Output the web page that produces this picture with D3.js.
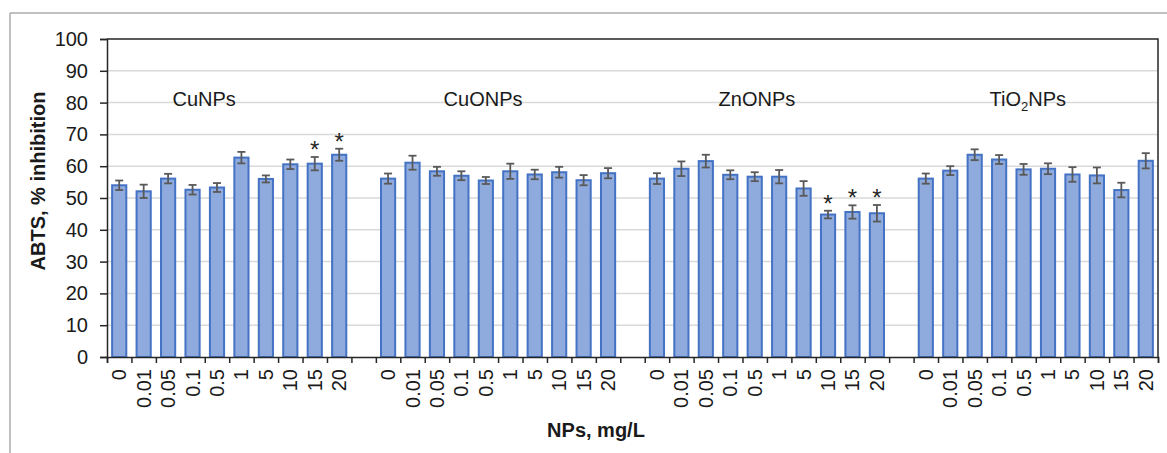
<!DOCTYPE html>
<html>
<head>
<meta charset="utf-8">
<script src="https://cdn.jsdelivr.net/npm/d3@7"></script>
<style>
  body { margin: 0; background: #fff; }
  svg { display: block; font-family: "Liberation Sans", Arial, sans-serif; }
</style>
</head>
<body>
<div id="chart"></div>
<script>
// categories
const groups = ['CuNPs', 'CuONPs', 'ZnONPs', 'TiO2NPs']
const concentrations = ['0', '0.01', '0.05', '0.1', '0.5', '1', '5', '10', '15', '20']

// ABTS % inhibition (mean) and error per group
const cuNPs = [54.0, 52.1, 56.1, 52.6, 53.3, 62.7, 56.0, 60.6, 60.8, 63.6]
const cuNPsErr = [1.5, 2.1, 1.5, 1.5, 1.4, 1.8, 1.1, 1.5, 2.1, 1.9]
const cuONPs = [56.1, 61.1, 58.4, 57.0, 55.5, 58.4, 57.4, 58.1, 55.6, 57.8]
const cuONPsErr = [1.6, 2.2, 1.4, 1.4, 1.1, 2.4, 1.5, 1.7, 1.6, 1.6]
const znONPs = [56.1, 59.2, 61.6, 57.3, 56.7, 56.7, 53.0, 44.8, 45.6, 45.2]
const znONPsErr = [1.7, 2.3, 2.0, 1.4, 1.4, 2.1, 2.3, 1.2, 2.1, 2.6]
const tiO2NPs = [56.1, 58.6, 63.6, 62.1, 59.0, 59.2, 57.4, 57.1, 52.5, 61.7]
const tiO2NPsErr = [1.6, 1.4, 1.7, 1.4, 1.7, 1.7, 2.3, 2.5, 2.3, 2.4]

// significance marks (*)
const cuNPsSig = [false, false, false, false, false, false, false, false, true, true]
const cuONPsSig = [false, false, false, false, false, false, false, false, false, false]
const znONPsSig = [false, false, false, false, false, false, false, true, true, true]
const tiO2NPsSig = [false, false, false, false, false, false, false, false, false, false]

const yTicks = [0, 10, 20, 30, 40, 50, 60, 70, 80, 90, 100]

const values = [cuNPs, cuONPs, znONPs, tiO2NPs]
const errors = [cuNPsErr, cuONPsErr, znONPsErr, tiO2NPsErr]
const sigs = [cuNPsSig, cuONPsSig, znONPsSig, tiO2NPsSig]

// build rows, with an empty category between groups (Excel style)
const rows = []
const domain = []
groups.forEach((g, gi) => {
  if (gi > 0) domain.push('gap' + gi)
  concentrations.forEach((c, ci) => {
    const key = g + '|' + c
    domain.push(key)
    rows.push({ key, group: g, conc: c, value: values[gi][ci], err: errors[gi][ci], sig: sigs[gi][ci] })
  })
})

const width = 1167
const height = 453
const margin = { top: 39, right: 9, bottom: 96, left: 107 }
const plotW = width - margin.left - margin.right
const plotH = height - margin.top - margin.bottom

const svg = d3.select('#chart').append('svg')
  .attr('width', width)
  .attr('height', height)

// outer frame (grey lines top and left)
svg.append('line').attr('x1', 10).attr('x2', width).attr('y1', 13).attr('y2', 13)
  .attr('stroke', '#ababab').attr('stroke-width', 1.5)
svg.append('line').attr('x1', 10).attr('x2', 10).attr('y1', 13).attr('y2', height)
  .attr('stroke', '#ababab').attr('stroke-width', 1.5)

const g = svg.append('g').attr('transform', `translate(${margin.left},${margin.top})`)

const x = d3.scaleBand().domain(domain).range([0, plotW]).paddingInner(0.42).paddingOuter(0.21)
const xEdges = d3.scaleLinear().domain([0, domain.length]).range([0, plotW])
const y = d3.scaleLinear().domain([0, 100]).range([plotH, 0])

// gridlines
g.append('g').selectAll('line')
  .data(yTicks.filter(t => t > 0 && t < 100))
  .enter().append('line')
  .attr('x1', 0).attr('x2', plotW)
  .attr('y1', d => y(d)).attr('y2', d => y(d))
  .attr('stroke', '#d9d9d9').attr('stroke-width', 1.5)

// top and right border of the plot
g.append('path')
  .attr('d', `M0,${y(100)}H${plotW}V${plotH}`)
  .attr('fill', 'none').attr('stroke', '#262626').attr('stroke-width', 1.5)

// bars
g.selectAll('.bar')
  .data(rows)
  .enter().append('rect')
  .attr('class', 'bar')
  .attr('x', d => x(d.key))
  .attr('y', d => y(d.value))
  .attr('width', x.bandwidth())
  .attr('height', d => plotH - y(d.value))
  .attr('fill', '#8faadc')
  .attr('stroke', '#4472c4')
  .attr('stroke-width', 2)

// error bars
const eb = g.append('g').attr('stroke', '#595959').attr('stroke-width', 1.8)
const cap = 4
rows.forEach(d => {
  const cx = x(d.key) + x.bandwidth() / 2
  eb.append('line').attr('x1', cx).attr('x2', cx).attr('y1', y(d.value + d.err)).attr('y2', y(d.value - d.err))
  eb.append('line').attr('x1', cx - cap).attr('x2', cx + cap).attr('y1', y(d.value + d.err)).attr('y2', y(d.value + d.err))
  eb.append('line').attr('x1', cx - cap).attr('x2', cx + cap).attr('y1', y(d.value - d.err)).attr('y2', y(d.value - d.err))
})

// significance stars
g.selectAll('.star')
  .data(rows.filter(d => d.sig))
  .enter().append('text')
  .attr('class', 'star')
  .attr('x', d => x(d.key) + x.bandwidth() / 2)
  .attr('y', d => y(d.value + d.err) + 1)
  .attr('text-anchor', 'middle')
  .attr('font-size', 24)
  .attr('fill', '#262626')
  .text('*')

// group labels
const labelShift = [-25, -15, -10, -8]
groups.forEach((grp, gi) => {
  const first = x(grp + '|' + concentrations[0])
  const last = x(grp + '|' + concentrations[concentrations.length - 1]) + x.bandwidth()
  const t = g.append('text')
    .attr('x', (first + last) / 2 + labelShift[gi])
    .attr('y', 67)
    .attr('text-anchor', 'middle')
    .attr('font-size', 20)
    .attr('fill', '#1a1a1a')
  if (grp === 'TiO2NPs') {
    t.append('tspan').text('TiO')
    t.append('tspan').attr('font-size', 13).attr('dy', 5).text('2')
    t.append('tspan').attr('dy', -5).text('NPs')
  } else {
    t.text(grp)
  }
})

// y axis
const yAxis = g.append('g')
  .call(d3.axisLeft(y).tickValues(yTicks).tickSize(7).tickPadding(12))
yAxis.selectAll('path, line').attr('stroke', '#262626').attr('stroke-width', 1.5)
yAxis.selectAll('text').attr('font-size', 20).attr('fill', '#1a1a1a').attr('font-family', null)

// x axis: tick marks on category boundaries
const xTicks = g.append('g')
  .attr('transform', `translate(0,${plotH})`)
  .call(d3.axisBottom(xEdges).tickValues(d3.range(domain.length + 1)).tickSize(6).tickFormat(''))
xTicks.selectAll('path, line').attr('stroke', '#262626').attr('stroke-width', 1.5)

// x axis labels at band centres
const xLabels = g.append('g')
  .attr('transform', `translate(0,${plotH})`)
  .call(d3.axisBottom(x).tickSize(0).tickFormat(d => d.startsWith('gap') ? '' : d.split('|')[1]))
xLabels.select('.domain').remove()
xLabels.selectAll('text')
  .attr('font-size', 20)
  .attr('font-family', null)
  .attr('fill', '#1a1a1a')
  .attr('transform', 'rotate(-90)')
  .attr('text-anchor', 'end')
  .attr('x', -12)
  .attr('y', 0)
  .attr('dy', '0.35em')

// axis titles
svg.append('text')
  .attr('x', 596)
  .attr('y', 437)
  .attr('text-anchor', 'middle')
  .attr('font-size', 20)
  .attr('font-weight', 'bold')
  .attr('fill', '#1a1a1a')
  .text('NPs, mg/L')

svg.append('text')
  .attr('transform', 'translate(45,181) rotate(-90)')
  .attr('text-anchor', 'middle')
  .attr('font-size', 20)
  .attr('font-weight', 'bold')
  .attr('fill', '#1a1a1a')
  .text('ABTS, % inhibition')
</script>
</body>
</html>
